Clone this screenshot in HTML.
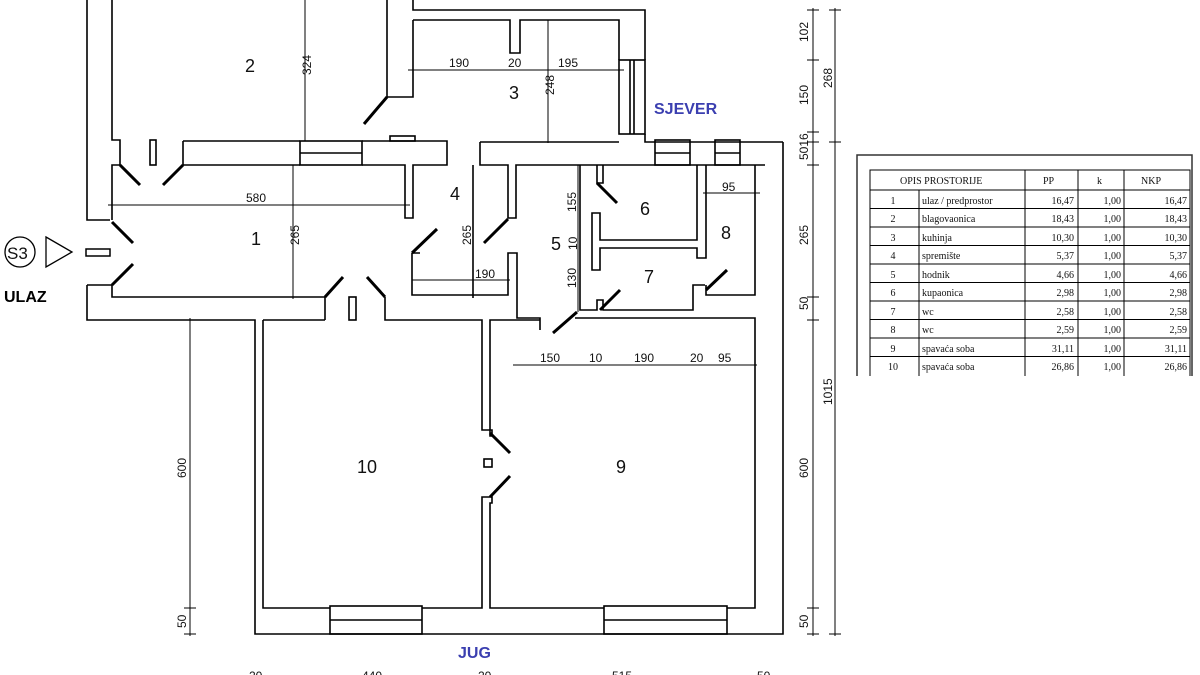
<!DOCTYPE html>
<html><head><meta charset="utf-8"><style>
html,body{margin:0;padding:0;background:#fff;}
svg{display:block}
.w{stroke:#000;stroke-width:1.6;fill:none}
.t{stroke:#000;stroke-width:1;fill:none}
.lbl{font-family:"Liberation Sans",sans-serif;font-size:18px;fill:#111}
.dim{font-family:"Liberation Sans",sans-serif;font-size:12px;fill:#111}
.tb{font-family:"Liberation Serif",serif;font-size:10px;fill:#111}
</style></head><body>
<svg width="1200" height="675" viewBox="0 0 1200 675" xmlns="http://www.w3.org/2000/svg">
<g class="w">
<path d="M87 0 V220 H110"/>
<path d="M112 0 V140 H120 V165 H112 V220"/>
<path d="M87 285 H112 V297 H325 V320"/>
<path d="M87 285 V320 H255 V634 H783 V142"/>
<path d="M183 141 H300 M183 165 H300 M183 141 V165"/>
<path d="M362 141 H447 V165 H413 V218 H405 V165 H362"/>
<rect x="300" y="141" width="62" height="24"/><path d="M300 153 H362"/>
<rect x="390" y="136" width="25" height="5"/>
<rect x="150" y="140" width="6" height="25"/>
<path d="M387 0 V97 H413 V20"/>
<path d="M413 0 V10 H645 V60"/>
<path d="M413 20 H510 V53 H520 V20 H619 V60"/>
<rect x="619" y="60" width="26" height="74"/><path d="M630 60 V134 M634 60 V134"/>
<path d="M480 142 H619 M645 134 V142 H783"/>
<path d="M480 142 V165 H508 V218 H516 V165 H765"/>
<rect x="655" y="140" width="35" height="25"/><path d="M655 153 H690"/>
<rect x="715" y="140" width="25" height="25"/><path d="M715 153 H740"/>
<path d="M473 165 V298"/>
<path d="M412 253 H420 M412 253 V295 H508 V253 H517 V318 H540 V330"/>
<path d="M597 165 V183 H603 V165"/>
<path d="M697 165 V240 H600 V213 H592 V270 H600 V248 H697 V258 H706 V165"/>
<path d="M755 165 V295 H706 V285"/>
<path d="M580 165 V310 H597 V300 H603 V310 H693 V285 H705"/>
<path d="M263 320 V608 H330 M422 608 H482 V497 H492 V503 H490 V608 H604 M727 608 H755 V318 H575"/>
<path d="M263 320 H325 M385 297 V320 H482 V430 H492 V436 H490 V320 H540"/>
<rect x="349" y="297" width="7" height="23"/>
<rect x="330" y="606" width="92" height="28"/><path d="M330 620 H422"/>
<rect x="604" y="606" width="123" height="28"/><path d="M604 620 H727"/>
<rect x="484" y="459" width="8" height="8"/>
</g>
<g stroke="#000" stroke-width="3" fill="none">
<path d="M120 165 L140 185 M183 165 L163 185 M112 222 L133 243 M112 285 L133 264 M387 97 L364 124 M325 297 L343 277 M385 297 L367 277 M412 253 L437 229 M484 243 L508 219 M597 183 L617 203 M600 310 L620 290 M706 290 L727 270 M577 312 L553 333 M490 433 L510 453 M490 497 L510 476"/>
</g>
<g class="t">
<path d="M108 205 H410 M293 165 V299 M305 0 V141 M408 70 H624 M548 20 V143 M578 165 V312 M703 193 H760 M412 280 H510 M513 365 H757"/>
<path d="M813 8 V636 M835 8 V636 M190 318 V636"/>
<path d="M807 10 H819 M807 60 H819 M807 132 H819 M807 142 H819 M807 165 H819 M807 297 H819 M807 320 H819 M807 608 H819 M807 634 H819 M829 10 H841 M829 142 H841 M829 634 H841 M184 320 H196 M184 608 H196 M184 634 H196"/>
</g>
<g class="dim">
<text x="246" y="202">580</text>
<text x="449" y="67">190</text><text x="508" y="67">20</text><text x="558" y="67">195</text>
<text x="475" y="278">190</text>
<text x="722" y="191">95</text>
<text x="540" y="362">150</text><text x="589" y="362">10</text><text x="634" y="362">190</text><text x="690" y="362">20</text><text x="718" y="362">95</text>
<text x="249" y="680">20</text><text x="362" y="680">440</text><text x="478" y="680">20</text><text x="612" y="680">515</text><text x="757" y="680">50</text>
<g transform="rotate(-90)">
<text x="-245" y="299">265</text>
<text x="-75" y="311">324</text>
<text x="-95" y="554">248</text>
<text x="-245" y="471">265</text>
<text x="-212" y="576">155</text>
<text x="-250" y="577">10</text>
<text x="-288" y="576">130</text>
<text x="-42" y="808">102</text>
<text x="-105" y="808">150</text>
<text x="-160" y="808">5016</text>
<text x="-245" y="808">265</text>
<text x="-310" y="808">50</text>
<text x="-478" y="808">600</text>
<text x="-628" y="808">50</text>
<text x="-88" y="832">268</text>
<text x="-405" y="832">1015</text>
<text x="-478" y="186">600</text>
<text x="-628" y="186">50</text>
</g>
</g>
<g class="lbl">
<text x="245" y="72">2</text><text x="251" y="245">1</text><text x="509" y="99">3</text>
<text x="450" y="200">4</text><text x="551" y="250">5</text><text x="640" y="215">6</text>
<text x="721" y="239">8</text><text x="644" y="283">7</text><text x="357" y="473">10</text><text x="616" y="473">9</text>
</g>
<circle cx="20" cy="252" r="15" fill="none" stroke="#000" stroke-width="1.3"/>
<text x="7" y="259" font-family="Liberation Sans,sans-serif" font-size="17" fill="#111">S3</text>
<path d="M46 237 L72 252 L46 267 Z" fill="none" stroke="#000" stroke-width="1.3"/>
<rect x="86" y="249" width="24" height="7" fill="none" stroke="#000" stroke-width="1.5"/>
<text x="4" y="302" font-family="Liberation Sans,sans-serif" font-size="16" font-weight="bold" fill="#000">ULAZ</text>
<text x="654" y="114" font-family="Liberation Sans,sans-serif" font-size="16" font-weight="bold" fill="#3b3fb0">SJEVER</text>
<text x="458" y="658" font-family="Liberation Sans,sans-serif" font-size="16" font-weight="bold" fill="#3b3fb0">JUG</text>
<path d="M857 376 V155 H1192 V376" fill="none" stroke="#333" stroke-width="1.5"/>
<g stroke="#000" stroke-width="1" fill="none">
<path d="M870 376 V170 H1190 V376"/>
<path d="M870 190 H1190"/>
<path d="M1025 170 V376 M1078 170 V376 M1124 170 V376 M919 190 V376"/>
<path d="M870 208.5 H1190 M870 227 H1190 M870 245.5 H1190 M870 264 H1190 M870 282.5 H1190 M870 301 H1190 M870 319.5 H1190 M870 338 H1190 M870 356.5 H1190"/>
</g>
<g class="tb">
<text x="900" y="184">OPIS PROSTORIJE</text><text x="1043" y="184">PP</text><text x="1097" y="184">k</text><text x="1141" y="184">NKP</text>
<g text-anchor="middle">
<text x="893" y="204">1</text><text x="893" y="222">2</text><text x="893" y="241">3</text><text x="893" y="259">4</text><text x="893" y="278">5</text><text x="893" y="296">6</text><text x="893" y="315">7</text><text x="893" y="333">8</text><text x="893" y="352">9</text><text x="893" y="370">10</text>
</g>
<text x="922" y="204">ulaz / predprostor</text><text x="922" y="222">blagovaonica</text><text x="922" y="241">kuhinja</text><text x="922" y="259">spremište</text><text x="922" y="278">hodnik</text><text x="922" y="296">kupaonica</text><text x="922" y="315">wc</text><text x="922" y="333">wc</text><text x="922" y="352">spavaća soba</text><text x="922" y="370">spavaća soba</text>
<g text-anchor="end">
<text x="1074" y="204">16,47</text><text x="1074" y="222">18,43</text><text x="1074" y="241">10,30</text><text x="1074" y="259">5,37</text><text x="1074" y="278">4,66</text><text x="1074" y="296">2,98</text><text x="1074" y="315">2,58</text><text x="1074" y="333">2,59</text><text x="1074" y="352">31,11</text><text x="1074" y="370">26,86</text>
<text x="1121" y="204">1,00</text><text x="1121" y="222">1,00</text><text x="1121" y="241">1,00</text><text x="1121" y="259">1,00</text><text x="1121" y="278">1,00</text><text x="1121" y="296">1,00</text><text x="1121" y="315">1,00</text><text x="1121" y="333">1,00</text><text x="1121" y="352">1,00</text><text x="1121" y="370">1,00</text>
<text x="1187" y="204">16,47</text><text x="1187" y="222">18,43</text><text x="1187" y="241">10,30</text><text x="1187" y="259">5,37</text><text x="1187" y="278">4,66</text><text x="1187" y="296">2,98</text><text x="1187" y="315">2,58</text><text x="1187" y="333">2,59</text><text x="1187" y="352">31,11</text><text x="1187" y="370">26,86</text>
</g>
</g>
</svg>
</body></html>
